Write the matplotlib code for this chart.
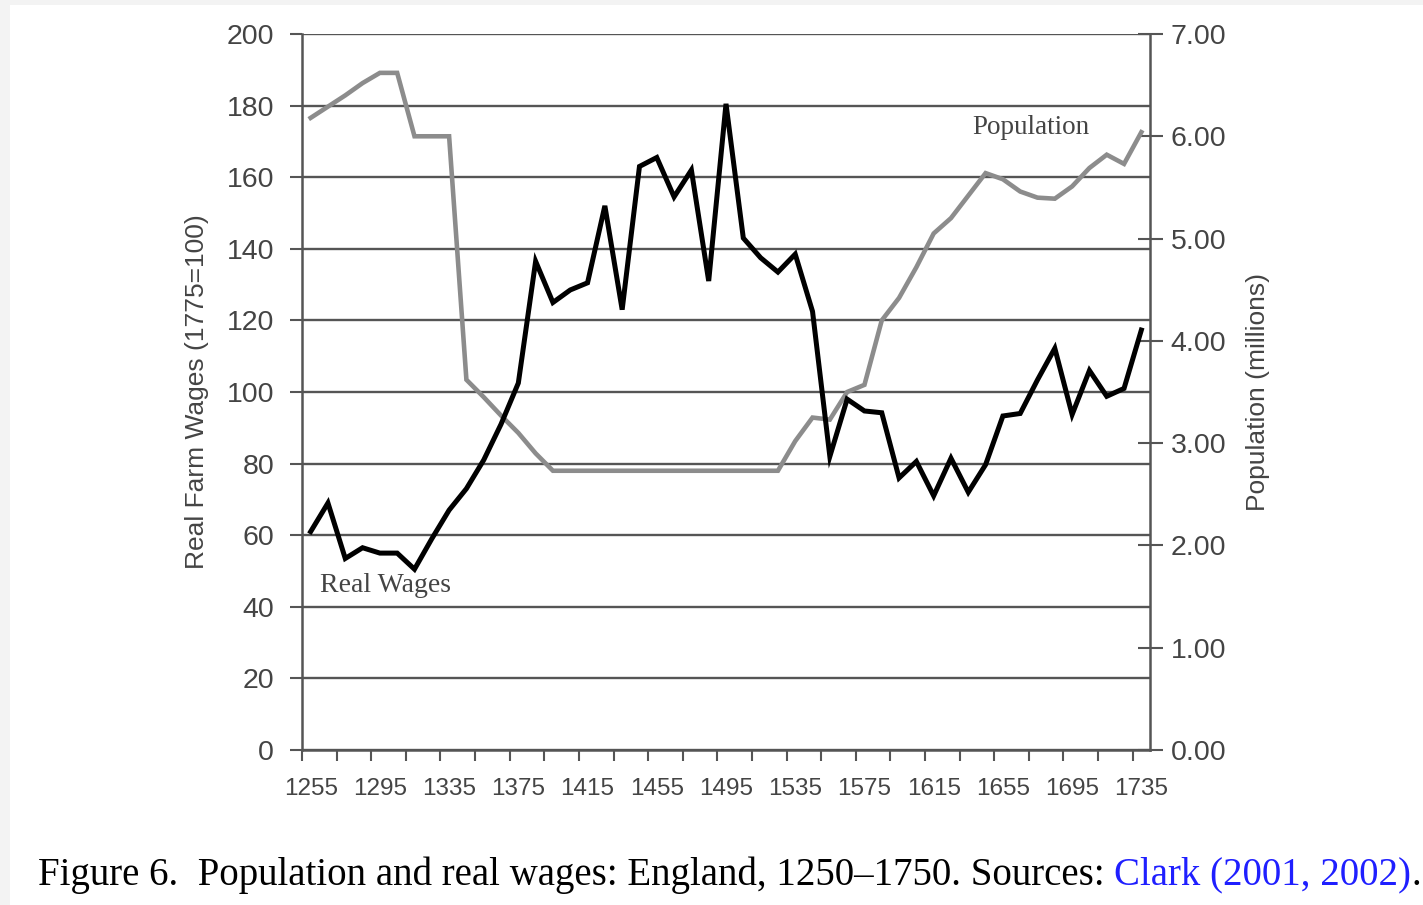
import matplotlib
matplotlib.use("Agg")
import matplotlib.pyplot as plt
from matplotlib.patches import Rectangle

plt.rcParams["font.family"] = ["Liberation Sans", "DejaVu Sans"]

years = list(range(1255, 1745, 10))

real_wages = [
    61.0, 69.0, 53.5, 56.5, 55.0, 55.0, 50.5, 59.0, 67.0, 73.0,    # 1255-1345
    81.0, 91.0, 102.5, 136.5, 125.0, 128.5, 130.5, 152.0, 123.0, 163.0,  # 1355-1445
    165.5, 154.5, 162.0, 131.0, 180.5, 143.0, 137.5, 133.5, 138.5, 122.5,  # 1455-1545
    82.0, 98.0, 94.7, 94.2, 76.0, 80.6, 71.0, 81.5, 72.0, 79.7,    # 1555-1645
    93.3, 94.0, 103.4, 112.2, 93.7, 106.0, 98.8, 101.0, 117.3,     # 1655-1735
]

population = [
    6.18, 6.29, 6.40, 6.52, 6.62, 6.62, 6.00, 6.00, 6.00, 3.62,    # 1255-1345
    3.45, 3.27, 3.10, 2.90, 2.73, 2.73, 2.73, 2.73, 2.73, 2.73,    # 1355-1445
    2.73, 2.73, 2.73, 2.73, 2.73, 2.73, 2.73, 2.73, 3.02, 3.25,    # 1455-1545
    3.23, 3.50, 3.57, 4.20, 4.42, 4.72, 5.05, 5.20, 5.42, 5.64,    # 1555-1645
    5.58, 5.46, 5.40, 5.39, 5.51, 5.69, 5.82, 5.73, 6.04,          # 1655-1735
]

wage_ticks = list(range(0, 201, 20))
pop_ticks = [0, 1, 2, 3, 4, 5, 6, 7]
year_labels = list(range(1255, 1736, 40))
year_marks = list(range(1250, 1731, 20))

caption_main = "Figure 6.  Population and real wages: England, 1250\u20131750. Sources: "
caption_link = "Clark (2001, 2002)"

GRID = "#555555"
TXT = "#444444"
SERIF = "Liberation Serif"

fig = plt.figure(figsize=(14.23, 9.05), dpi=100)
fig.patch.set_facecolor("#f3f3f3")
fig.patches.append(Rectangle((10 / 1423, 0), 1, 1 - 5 / 905, transform=fig.transFigure,
                             facecolor="white", edgecolor="none", zorder=-10))

ax = fig.add_axes([302 / 1423, 155 / 905, 848 / 1423, 716 / 905])
ax2 = ax.twinx()

ax.set_yticks(wage_ticks)
ax.yaxis.grid(True, color=GRID, linewidth=1.7)
ax.set_axisbelow(True)
ax.tick_params(axis="y", direction="out", length=9, width=1.5, color=GRID,
               labelsize=20.5, labelcolor=TXT, pad=11)

ax.set_xticks(year_marks)
ax.set_xticklabels([])
ax.set_xticks(year_labels, minor=True)
ax.set_xticklabels([str(y) for y in year_labels], minor=True)
ax.tick_params(axis="x", which="major", direction="out", length=8, width=1.5, color=GRID)
ax.tick_params(axis="x", which="minor", length=0, labelsize=17.5, labelcolor=TXT, pad=20)

ax2.set_yticks(pop_ticks)
ax2.set_yticklabels([f"{v:.2f}" for v in pop_ticks])
ax2.tick_params(axis="y", direction="inout", length=18, width=1.5, color=GRID,
                labelsize=20.5, labelcolor=TXT, pad=6)

for a in (ax, ax2):
    for side in ("top", "right", "left", "bottom"):
        a.spines[side].set_visible(False)
ax.spines["left"].set_visible(True)
ax.spines["bottom"].set_visible(True)
ax2.spines["right"].set_visible(True)
for sp in (ax.spines["left"], ax.spines["bottom"], ax2.spines["right"]):
    sp.set_color(GRID)
    sp.set_linewidth(1.8)

ax2.plot(years, population, color="#8c8c8c", linewidth=3.3, zorder=3,
         solid_joinstyle="miter")
ax2.plot(years, real_wages, color="black", linewidth=3.6, zorder=4,
         transform=ax.transData, solid_joinstyle="miter")
ax.set_xlim(1250, 1740)
ax.set_ylim(0, 200)
ax2.set_ylim(0, 7)

ax.set_ylabel("Real Farm Wages (1775=100)", fontsize=19, color=TXT, labelpad=13)
ax2.set_ylabel("Population (millions)", fontsize=19, color=TXT, labelpad=14)

ax.text(1671, 174, "Population", fontsize=19.5, family=SERIF, color=TXT,
        ha="center", va="center")
ax.text(1298, 46, "Real Wages", fontsize=20, family=SERIF, color=TXT,
        ha="center", va="center")

cap_y = 30 / 905
t1 = fig.text(38 / 1423, cap_y, caption_main, fontsize=28, family=SERIF,
              color="black", ha="left", va="center")
fig.canvas.draw()
r = fig.canvas.get_renderer()
bb = t1.get_window_extent(renderer=r)
t2 = fig.text(bb.x1 / fig.bbox.width, cap_y, caption_link, fontsize=28,
              family=SERIF, color="#1f1fff", ha="left", va="center")
bb2 = t2.get_window_extent(renderer=r)
fig.text(bb2.x1 / fig.bbox.width, cap_y, ".", fontsize=28, family=SERIF,
         color="black", ha="left", va="center")

fig.savefig("out.png", dpi=100, facecolor=fig.get_facecolor())
